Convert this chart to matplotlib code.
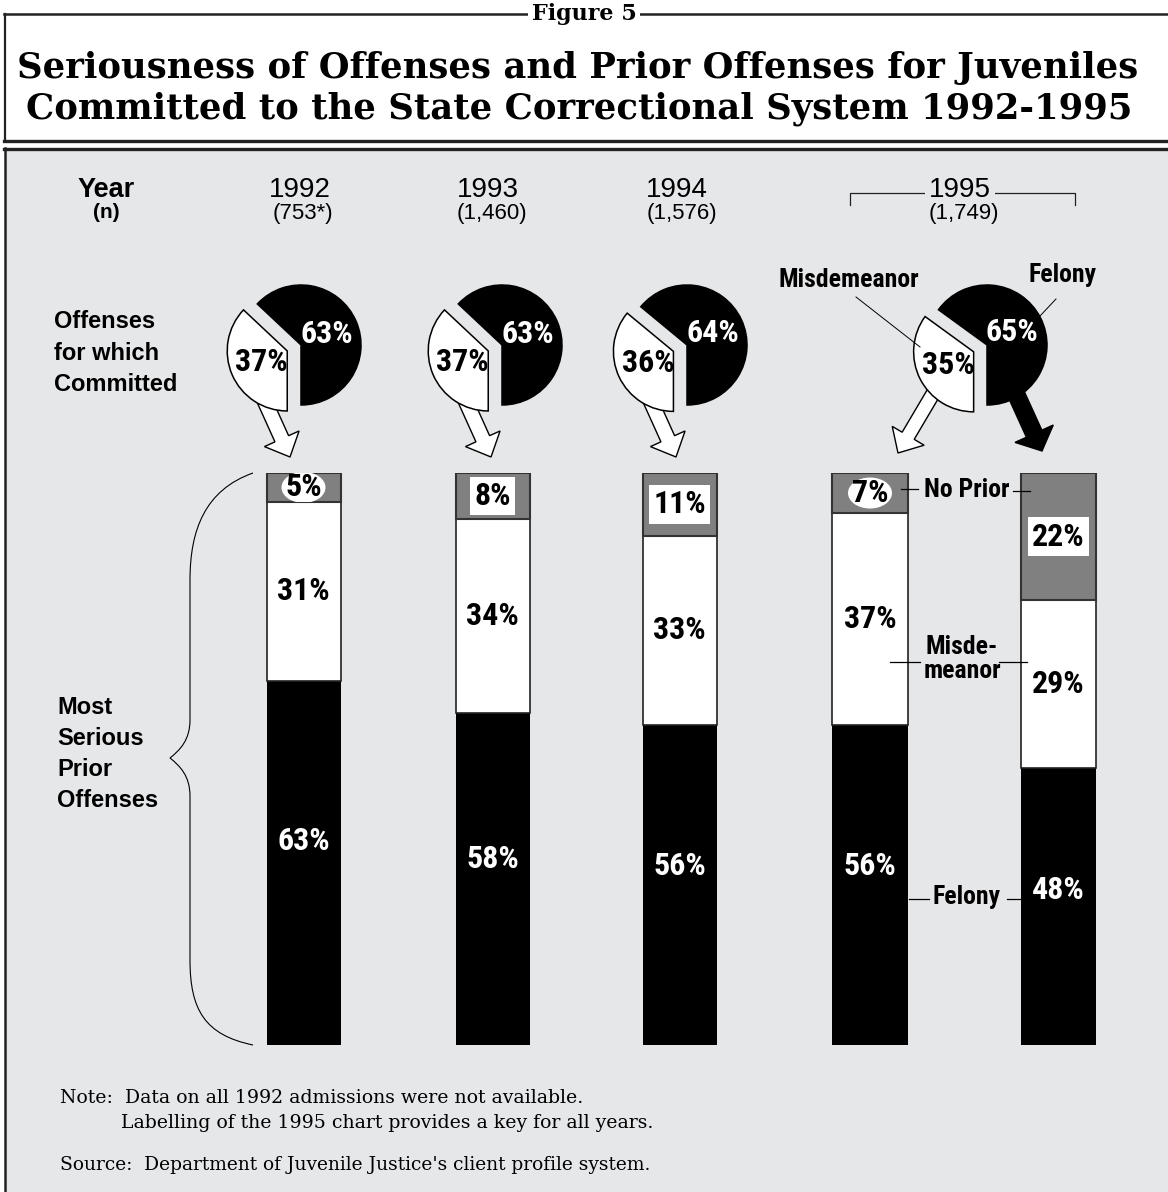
import numpy as np
import matplotlib
matplotlib.use('Agg')
import matplotlib.pyplot as plt
from matplotlib.patches import Rectangle, FancyArrow, PathPatch, Ellipse
from matplotlib.path import Path

# ============================================================
#  Data
# ============================================================
years = ['1992', '1993', '1994', '1995']
n_labels = ['(753*)', '(1,460)', '(1,576)', '(1,749)']

# offenses for which committed (pie): felony / misdemeanor
pie_felony = [63, 63, 64, 65]
pie_misd = [37, 37, 36, 35]

# most serious prior offenses (bars); 1995 split by committing offense
bar_groups = ['1992', '1993', '1994', '1995 Misdemeanor', '1995 Felony']
prior_felony = [63, 58, 56, 56, 48]
prior_misd = [31, 34, 33, 37, 29]
prior_none = [5, 8, 11, 7, 22]

# ============================================================
#  Layout (pixels)
# ============================================================
W, H = 1168, 1192
BG = '#e6e7e9'
GRAY = '#808080'
NARROW = ['Liberation Sans Narrow', 'Arial Narrow', 'Roboto Condensed',
          'Barlow Condensed', 'DejaVu Sans']
SANS = ['Liberation Sans', 'Arimo', 'DejaVu Sans']
SERIF = ['DejaVu Serif']

year_x = [300, 488, 677, 960]
n_x = [303, 492, 682, 964]
pie_cx = [301, 502, 687, 987]
pie_cy = 345
pie_r = 60
bar_x = [303.5, 492.5, 679.5, 870, 1058.5]
bar_w = [74, 74, 74, 76, 75]
bar_top, bar_bot = 473, 1045

fig = plt.figure(figsize=(W / 100, H / 100), dpi=100)


def px_axes():
    a = fig.add_axes([0, 0, 1, 1])
    a.set_xlim(0, W)
    a.set_ylim(H, 0)
    a.axis('off')
    a.patch.set_alpha(0)
    return a


# ============================================================
#  Background, frames, titles
# ============================================================
bg = px_axes()
bg.add_patch(Rectangle((5, 148), W, H, fc=BG, ec='none', zorder=0.5))
bg.plot([4, W], [14, 14], color='#222', lw=1.8)
bg.plot([5, 5], [14, 141], color='#222', lw=1.6)
bg.plot([4, W], [140.5, 140.5], color='#222', lw=2.4)
bg.plot([4, W], [148.5, 148.5], color='#222', lw=2.4)
bg.plot([5, 5], [148, H], color='#222', lw=1.8)

bg.text(584, 14, 'Figure 5', ha='center', va='center', fontsize=16,
        fontweight='bold', family=SERIF,
        bbox=dict(boxstyle='square,pad=0.15', fc='white', ec='none'))
bg.text(578, 68, 'Seriousness of Offenses and Prior Offenses for Juveniles',
        ha='center', va='center', fontsize=25.5, fontweight='bold', family=SERIF)
bg.text(579, 109, 'Committed to the State Correctional System 1992-1995',
        ha='center', va='center', fontsize=25.5, fontweight='bold', family=SERIF)

# year header
bg.text(106, 190, 'Year', ha='center', va='center', fontsize=19.5,
        fontweight='bold', family=SANS)
bg.text(106, 213, '(n)', ha='center', va='center', fontsize=15,
        fontweight='bold', family=SANS)
# 1995 bracket
bg.plot([850, 850, 1075, 1075], [205, 193, 193, 205], color='#222', lw=0.9,
        zorder=1.5)
for yx, nx, yr, nl in zip(year_x, n_x, years, n_labels):
    bg.text(yx, 190, yr, ha='center', va='center', fontsize=20, family=SANS,
            zorder=3, bbox=dict(boxstyle='square,pad=0.15', fc=BG, ec='none'))
    bg.text(nx, 213, nl, ha='center', va='center', fontsize=16, family=SANS)

bg.text(54, 353, 'Offenses\nfor which\nCommitted', ha='left', va='center',
        fontsize=17, fontweight='bold', family=SANS, linespacing=1.45)
bg.text(57, 754, 'Most\nSerious\nPrior\nOffenses', ha='left', va='center',
        fontsize=17, fontweight='bold', family=SANS, linespacing=1.45)

# curly brace
verts = [(253, 473), (205, 490), (190, 530), (190, 580),
         (190, 720),
         (190, 740), (180, 750), (170, 758),
         (180, 766), (190, 776), (190, 796),
         (190, 960),
         (190, 1010), (205, 1035), (253, 1045)]
codes = [Path.MOVETO, Path.CURVE4, Path.CURVE4, Path.CURVE4,
         Path.LINETO,
         Path.CURVE4, Path.CURVE4, Path.CURVE4,
         Path.CURVE4, Path.CURVE4, Path.CURVE4,
         Path.LINETO,
         Path.CURVE4, Path.CURVE4, Path.CURVE4]
bg.add_patch(PathPatch(Path(verts, codes), fc='none', ec='black', lw=0.8))

# notes
bg.text(60, 1098, 'Note:  Data on all 1992 admissions were not available.',
        ha='left', va='center', fontsize=13.6, family=SERIF)
bg.text(121, 1123, 'Labelling of the 1995 chart provides a key for all years.',
        ha='left', va='center', fontsize=13.6, family=SERIF)
bg.text(60, 1165, "Source:  Department of Juvenile Justice's client profile system.",
        ha='left', va='center', fontsize=13.4, family=SERIF)

# arrows from pies to bars (tails tucked under the pie slices)
for cx in pie_cx[:3]:
    dx = cx - 301
    bg.add_patch(FancyArrow(262 + dx, 395, 28, 62, width=15, head_width=38,
                            head_length=20, length_includes_head=True,
                            fc='white', ec='black', lw=1))
bg.add_patch(FancyArrow(937, 387, -39, 66, width=14, head_width=37,
                        head_length=20, length_includes_head=True,
                        fc='white', ec='black', lw=1))
bg.add_patch(FancyArrow(1012, 385, 30, 66, width=17, head_width=42,
                        head_length=19, length_includes_head=True,
                        fc='black', ec='black', lw=1))

# ============================================================
#  Stacked bars: most serious prior offense
# ============================================================
bx = fig.add_axes([0, (H - bar_bot) / H, 1, (bar_bot - bar_top) / H])
bx.set_xlim(0, W)
bx.set_ylim(0, 100)
bx.axis('off')
bx.patch.set_alpha(0)

fel = np.array(prior_felony, float)
mis = np.array(prior_misd, float)
non = np.array(prior_none, float)
tot = fel + mis + non
fel_s, mis_s, non_s = fel / tot * 100, mis / tot * 100, non / tot * 100

bx.bar(bar_x, fel_s, width=bar_w, color='black', ec='none')
bx.bar(bar_x, mis_s, width=bar_w, bottom=fel_s, color='white', ec='#222',
       lw=1.2)
top_bars = bx.bar(bar_x, non_s, width=bar_w, bottom=fel_s + mis_s,
                  color=GRAY, ec='#333', lw=1.5)

px_per_pct = (bar_bot - bar_top) / 100
lab = dict(ha='center', va='center', fontsize=23, fontweight='bold',
           family=NARROW)
for i, x in enumerate(bar_x):
    bx.text(x, fel_s[i] * 0.56, f'{prior_felony[i]}%', color='white', **lab)
    bx.text(x, fel_s[i] + mis_s[i] / 2, f'{prior_misd[i]}%', color='black',
            **lab)
    yc = fel_s[i] + mis_s[i] + non_s[i] / 2
    if prior_none[i] < 8:
        # short segment: white oval behind the label, cut by the bar outline
        ell = Ellipse((x, yc), 44, 31 / px_per_pct, fc='white', ec='none',
                      zorder=3)
        bx.add_patch(ell)
        ell.set_clip_path(top_bars[i])
        bx.text(x, yc, f'{prior_none[i]}%', color='black', zorder=4, **lab)
    else:
        bx.text(x, yc, f'{prior_none[i]}%', color='black', zorder=4,
                bbox=dict(boxstyle='square,pad=0.13', fc='white', ec='none'),
                **lab)

# ============================================================
#  Pies: offense for which committed
# ============================================================
for cx, f, m in zip(pie_cx, pie_felony, pie_misd):
    s = 1.5 * pie_r
    pax = fig.add_axes([(cx - s) / W, (H - pie_cy - s) / H, 2 * s / W,
                        2 * s / H])
    wedges, _, autotexts = pax.pie(
        [f, m], colors=['black', 'white'], startangle=-90, counterclock=True,
        explode=[0, 0.25], autopct=lambda p: f'{p:.0f}%', pctdistance=0.47,
        wedgeprops=dict(edgecolor='black', linewidth=1.1))
    pax.set_xlim(-1.5, 1.5)
    pax.set_ylim(-1.5, 1.5)
    pax.axis('off')
    autotexts[0].set_color('white')
    autotexts[1].set_color('black')
    for t in autotexts:
        t.set_fontsize(23)
        t.set_fontweight('bold')
        t.set_family(NARROW)

# ============================================================
#  Key labels for 1995 (top layer)
# ============================================================
ov = px_axes()
key = dict(ha='center', va='center', fontsize=18.5, fontweight='bold',
           family=NARROW)
ov.text(849, 280, 'Misdemeanor', **key)
ov.plot([856, 920], [297, 347], color='black', lw=0.7)
ov.text(1063, 275, 'Felony', **key)
ov.plot([1056, 1040], [299, 316], color='black', lw=0.7)

ov.text(967, 490, 'No Prior', **key)
ov.plot([901, 918], [489, 489], color='black', lw=0.9)
ov.plot([1013, 1030], [491, 491], color='black', lw=0.9)
ov.text(962, 659, 'Misde-\nmeanor', linespacing=1.05, **key)
ov.plot([890, 920], [662, 662], color='black', lw=0.9)
ov.plot([999, 1027], [662, 662], color='black', lw=0.9)
ov.text(967, 897, 'Felony', **key)
ov.plot([909, 929], [899, 899], color='black', lw=0.9)
ov.plot([1007, 1021], [899, 899], color='black', lw=0.9)

fig.savefig('out.png', dpi=100)
